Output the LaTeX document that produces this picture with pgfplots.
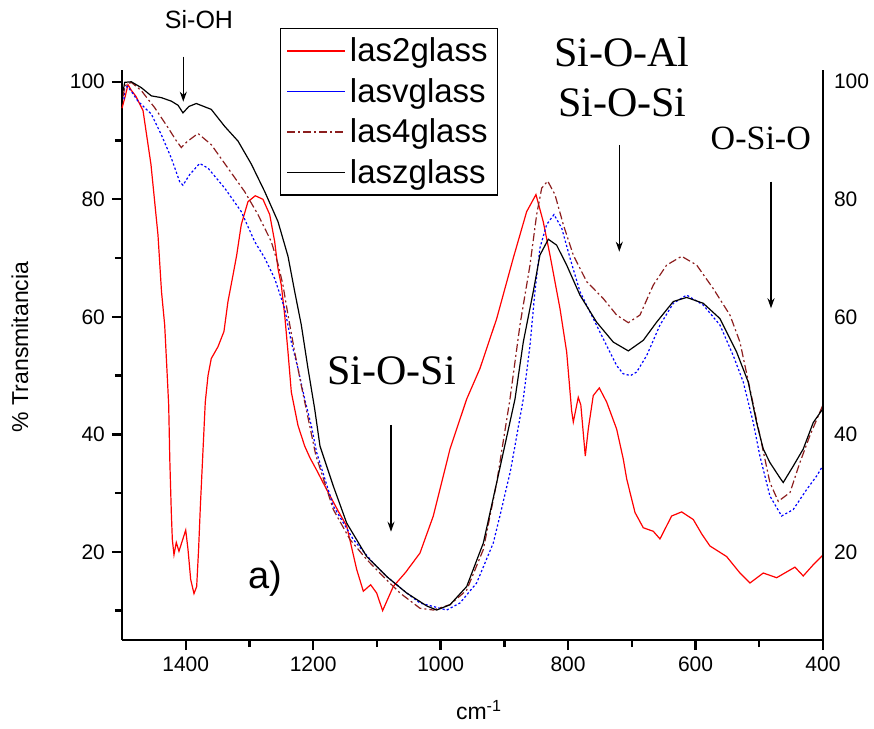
\documentclass[border=0pt]{standalone}
\usepackage{fontspec}
\setmainfont{Liberation Sans}
\newfontfamily\tnr{Liberation Serif}
\usepackage{pgfplots}
\pgfplotsset{compat=1.18}
\usetikzlibrary{arrows.meta}
\definecolor{wine}{RGB}{140,30,30}
\definecolor{vblue}{RGB}{0,0,255}

\pgfplotsset{
  ftir/.style={scale only axis, width=350.5pt, height=285pt,
    x dir=reverse, xmin=400, xmax=1500, ymin=5, ymax=102,
    /pgf/number format/assume math mode=true,
    /pgf/number format/1000 sep={},
    ticklabel style={font=\fontsize{10.5}{12}\selectfont},
    axis line style={-, line width=1.3pt},
    tick style={line width=1.2pt, black}},
}

\begin{document}
\begin{tikzpicture}
\useasboundingbox (-61pt,-44.5pt) rectangle (376pt,320pt);

\begin{axis}[ftir,
    axis x line*=bottom, axis y line*=left,
    clip=false,
    xtick={400,600,...,1400}, minor xtick={500,700,...,1300},
    ytick={20,40,...,100}, minor ytick={10,30,...,90},
    tick align=outside, major tick length=5pt, minor tick length=3.5pt,
    legend cell align=left,
    legend style={at={(0.2254,1.0732)}, anchor=north west,
      font=\fontsize{16.5}{19}\selectfont, draw=black, line width=0.6pt,
      inner xsep=3pt, inner ysep=2.4pt, row sep=2.8pt},
    legend image code/.code={\draw[#1] (0pt,0pt) -- (29pt,0pt);},
  ]

% legend samples (the blue one is solid in the original)
\addlegendimage{draw=red, line width=0.7pt}
\addlegendentry{las2glass}
\addlegendimage{draw=vblue, line width=0.7pt}
\addlegendentry{lasvglass}
\addlegendimage{draw=wine, line width=0.7pt, dash pattern=on 4pt off 1.5pt on 1pt off 1.5pt}
\addlegendentry{las4glass}
\addlegendimage{draw=black, line width=0.7pt}
\addlegendentry{laszglass}

% las2glass
\addplot[red, line width=0.6pt, forget plot] coordinates {
(1500,95.5) (1495,97.5) (1490.6,99.5) (1485,98.5) (1478,97.5) (1467,95.1)
(1454.5,85.9) (1443.5,73.9) (1438,64.3) (1433,58.6) (1429,50) (1426.7,44.9)
(1425,35.8) (1422.6,26.7) (1421,22.1) (1418.4,19.5) (1414.8,21.6) (1410.6,20.1)
(1405,22) (1400,23.7) (1396.4,20.4) (1392.2,15.3) (1387,12.9) (1382.8,14.1)
(1379.8,20.4) (1377,27.8) (1373,37) (1369.3,45.5) (1365,50) (1359.9,52.9)
(1349.4,54.9) (1340,57.5) (1333.7,62.6) (1325.8,67.1) (1320,70.5) (1312.8,75.7)
(1302.3,79.6) (1290.8,80.6) (1278.8,80) (1268.2,77.4) (1260.4,72.8) (1255.2,68.2)
(1250,65.4) (1244.7,60.3) (1239.5,54) (1234.3,47.2) (1223.8,41.5) (1213.3,38)
(1205,36) (1195,34) (1178.8,30.6) (1160,26.8) (1147.4,24.4) (1131.7,17)
(1121.3,13.3) (1109.8,14.4) (1100.4,13) (1091,10) (1083.7,11.8) (1074.3,14.1)
(1055,16.5) (1032.4,19.8) (1011.5,26.1) (985.3,37.5) (959.1,46) (938.3,51.2)
(912,59.7) (886,70) (865,77.9) (850.4,80.8) (839,76.2) (828.4,70.5)
(812.7,61.4) (802.2,54) (794.4,44) (791.8,42.1) (784,46.3) (780,45)
(773,36.3) (768.3,40.9) (760.5,46.6) (751,47.9) (739.5,45.5) (723.8,40.9)
(713.4,35.8) (708,32.4) (695,26.7) (682,24.1) (666.3,23.5) (655.8,22.2)
(637.5,26.1) (621.8,26.8) (603.5,25.5) (590,23) (577.4,21) (551.2,19.2)
(530.3,16.4) (514.6,14.7) (493.7,16.4) (472.7,15.6) (444,17.4) (431,15.9)
(415.3,17.8) (400.5,19.4)
};

% lasvglass
\addplot[vblue, line width=0.6pt, dash pattern=on 1.1pt off 1.1pt, forget plot] coordinates {
(1497,97) (1495.8,99) (1491,99.2) (1483,98) (1474.9,96.7) (1454,94.5)
(1438.3,91) (1422.6,87) (1409.5,83) (1404.3,82.4) (1393.8,84.2) (1378.1,86.1)
(1365,85.3) (1338.8,81.9) (1312.8,77.9) (1291.8,72.8) (1276,70) (1260.4,66.5)
(1244.7,61.4) (1234.3,55.7) (1223.8,51.2) (1213.3,46) (1202.9,41.5) (1194.5,36.9)
(1168.4,27.8) (1137,22.1) (1105.7,18.1) (1084.6,15.8) (1053.3,13) (1032.4,11.3)
(990.5,10.1) (969.6,11.3) (943.5,14.7) (917.4,21.5) (907,26.1) (890,34)
(870.3,46) (859.8,55.1) (852,64.3) (844.2,71.7) (833.6,75.7) (822.1,77.4)
(810,75.1) (797,70) (781.4,64.3) (760.5,59.7) (739.5,55.1) (723.8,51.7)
(713.4,50.3) (702,50) (692.4,50.6) (676.7,53.4) (655.8,58.6) (634.9,62.3)
(613.9,63.7) (587.9,62) (561.7,58.6) (540.8,53.4) (525.1,48.9) (509.4,42)
(499,36.3) (483.3,29.5) (464.9,26.1) (446.7,27.2) (425.7,30.6) (410,32.9)
(400.5,34.6)
};

% las4glass
\addplot[wine, line width=0.6pt, dash pattern=on 4pt off 1.5pt on 1pt off 1.5pt, forget plot] coordinates {
(1498,97.5) (1495.8,99.3) (1485.4,99.9) (1469.7,98.5) (1448.8,95.6) (1427.8,92.2)
(1415,90) (1406.9,88.8) (1398,89.8) (1380.7,91.2) (1359.9,89.3) (1333.7,85.3)
(1307.5,81.3) (1286.6,77.4) (1265.7,72.8) (1255.2,69) (1247.4,65.4) (1239.5,60.3)
(1229,54) (1218.6,48.3) (1205.5,41.5) (1196,36.5) (1168.4,27.2) (1142.2,22.1)
(1116,18.7) (1090,15.8) (1063.8,13) (1032.4,10.4) (1011.5,10.1) (985.3,11)
(959.1,13.5) (933,20.4) (912,31.8) (891.2,46) (875.5,58.6) (859.8,68.8)
(849.3,77.4) (841.4,81.9) (832,83.1) (820.6,80.8) (807.5,75.7) (791.8,70.5)
(770.9,66) (744.7,63.1) (723.8,60.3) (705.5,59) (687.2,60.3) (666.3,65.4)
(645.4,68.8) (621.8,70.3) (598.2,68.8) (572.2,64.8) (546,60.3) (530.3,55.7)
(514.6,47.7) (499,39.8) (483.3,31.8) (470.2,28.6) (451.8,30.1) (436.2,35.2)
(420.5,39.8) (400.5,44.9)
};

% laszglass
\addplot[black, line width=0.6pt, forget plot] coordinates {
(1498,98.5) (1495.8,99.9) (1485.4,100) (1469.7,99) (1454,97.6) (1438.3,97.3)
(1422.6,96.7) (1412,96) (1404.3,94.7) (1395,95.8) (1383.4,96.3) (1359.9,95.3)
(1338.8,92.4) (1317.9,89.9) (1297.1,86) (1276,81.3) (1255.2,76.2) (1239.5,70.3)
(1229,64.3) (1218.6,58.6) (1208.1,51.2) (1197.6,44.3) (1189.3,38) (1168.4,31.2)
(1147.4,24.9) (1116,19.2) (1084.6,15.8) (1053.3,13) (1021.9,10.8) (1006.2,10.1)
(985.3,11) (959.1,14.1) (933,21.5) (912,31.8) (883.3,46) (870.3,55.7)
(854.6,64.3) (844.2,70.5) (831,73.2) (818,72.2) (802.2,68.8) (781.4,63.7)
(755.3,59.1) (729.1,55.7) (705.5,54.2) (682,56) (661,59.1) (634.9,62.6)
(613.9,63.3) (587.9,62.3) (561.7,59.7) (535.5,54) (517.3,48.9) (504.2,42)
(493.7,37.5) (483.3,35.2) (467.6,32.6) (462.4,31.8) (446.7,34.6) (431,37.5)
(415.3,42) (400.5,44.3)
};
\end{axis}

% right-hand axis: line and labels only
\begin{axis}[ftir,
    axis x line=none, axis y line*=right,
    ytick={20,40,...,100}, major tick length=0pt, minor tick num=0,
    yticklabel style={xshift=2pt}]
\end{axis}

% labels and band assignments
\node[rotate=90, font=\fontsize{11.5}{13}\selectfont] at (-51pt,146.5pt) {\% Transmitancia};
\node[anchor=base west, font=\fontsize{11.5}{13}\selectfont] at (163.5pt,-40pt) {cm\textsuperscript{-1}};

\node[font=\fontsize{12.5}{14}\selectfont] at (38.5pt,310pt) {Si-OH};
\draw[line width=0.7pt, -{Stealth[length=5pt,width=3.5pt]}] (30.65pt,291.65pt) -- (30.65pt,269.15pt);

\node[anchor=base, font=\tnr\fontsize{21}{24}\selectfont] at (250pt,286.5pt) {Si-O-Al};
\node[anchor=base, font=\tnr\fontsize{21}{24}\selectfont] at (250.25pt,261.5pt) {Si-O-Si};
\draw[line width=0.7pt, -{Stealth[length=5pt,width=3.5pt]}] (248.65pt,247.5pt) -- (248.65pt,194.15pt);

\node[anchor=base, font=\tnr\fontsize{17}{20}\selectfont] at (319.4pt,245pt) {O-Si-O};
\draw[line width=0.7pt, -{Stealth[length=5pt,width=3.5pt]}] (324.5pt,229.15pt) -- (324.5pt,165.85pt);

\node[anchor=base, font=\tnr\fontsize{21}{24}\selectfont] at (134.85pt,127.5pt) {Si-O-Si};
\draw[line width=0.7pt, -{Stealth[length=5pt,width=3.5pt]}] (134.5pt,107.5pt) -- (134.5pt,54.15pt);

\node[anchor=base west, font=\fontsize{19}{22}\selectfont] at (59.85pt,25.85pt) {a)};
\end{tikzpicture}
\end{document}
